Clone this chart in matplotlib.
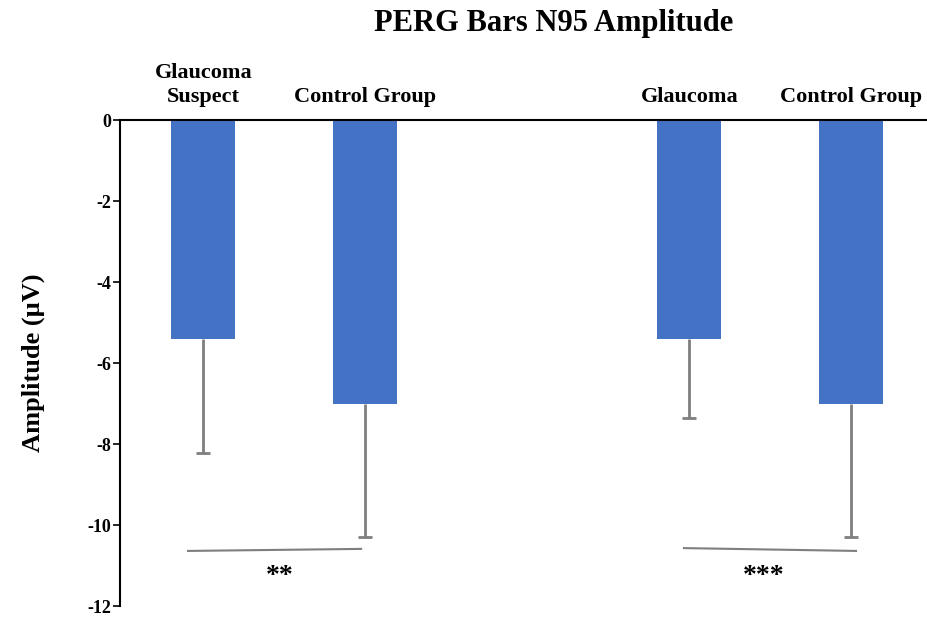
import matplotlib
matplotlib.use("Agg")
import matplotlib.pyplot as plt
import numpy as np

groups = ["Glaucoma\nSuspect", "Control Group", "Glaucoma", "Control Group"]
positions = [0, 1, 3, 4]
amplitudes = [-5.4, -7.0, -5.4, -7.0]
lower_errors = [2.82, 3.3, 1.95, 3.3]
significance = ["**", "***"]
star_x = [0.473, 3.455]
line_x = [(-0.095, 0.973), (2.966, 4.028)]
line_y = [(-10.64, -10.59), (-10.57, -10.64)]

plt.rcParams["font.family"] = ["Liberation Serif", "DejaVu Serif"]
plt.rcParams["font.weight"] = "bold"

fig = plt.figure(figsize=(9.27, 6.19), dpi=100)
ax = fig.add_axes([0.1294, 0.021, 0.8706, 0.785])

ax.bar(positions, amplitudes, width=0.395, color="#4472c4", zorder=2)
_, caps, _ = ax.errorbar(positions, amplitudes,
                         yerr=[lower_errors, np.zeros(len(lower_errors))],
                         fmt="none", ecolor="#7f7f7f", elinewidth=2,
                         capsize=5, capthick=2, zorder=1)
# keep only the lower caps
caps[1].set_visible(False)

ax.set_xlim(-0.515, 4.466)
ax.set_ylim(-12, 0)
ax.set_yticks(np.arange(-12, 1, 2))
ax.set_yticklabels([str(v) for v in range(-12, 1, 2)], fontsize=13, fontweight="bold")
ax.set_xticks([])
ax.tick_params(axis="y", direction="out", length=5, width=1.2, pad=1.5)

for side in ["right", "bottom"]:
    ax.spines[side].set_visible(False)
ax.spines["left"].set_linewidth(1.5)
ax.spines["top"].set_linewidth(1.5)

for pos, name in zip(positions, groups):
    ax.annotate(name, xy=(pos, 0), xytext=(0, 9.5), textcoords="offset points",
                ha="center", va="bottom", fontsize=16, fontweight="bold",
                linespacing=1.25, annotation_clip=False)

for (x0, x1), (y0, y1), sx, s in zip(line_x, line_y, star_x, significance):
    ax.plot([x0, x1], [y0, y1], color="#7f7f7f", linewidth=1.5, clip_on=False)
    ax.text(sx, -11.26, s, ha="center", va="center", fontsize=20, fontweight="bold")

ax.set_ylabel("Amplitude (µV)", fontsize=19, fontweight="bold", labelpad=30)
fig.text(0.597, 0.962, "PERG Bars N95 Amplitude", ha="center", va="center",
         fontsize=22, fontweight="bold")

fig.savefig("out.png", dpi=100)
